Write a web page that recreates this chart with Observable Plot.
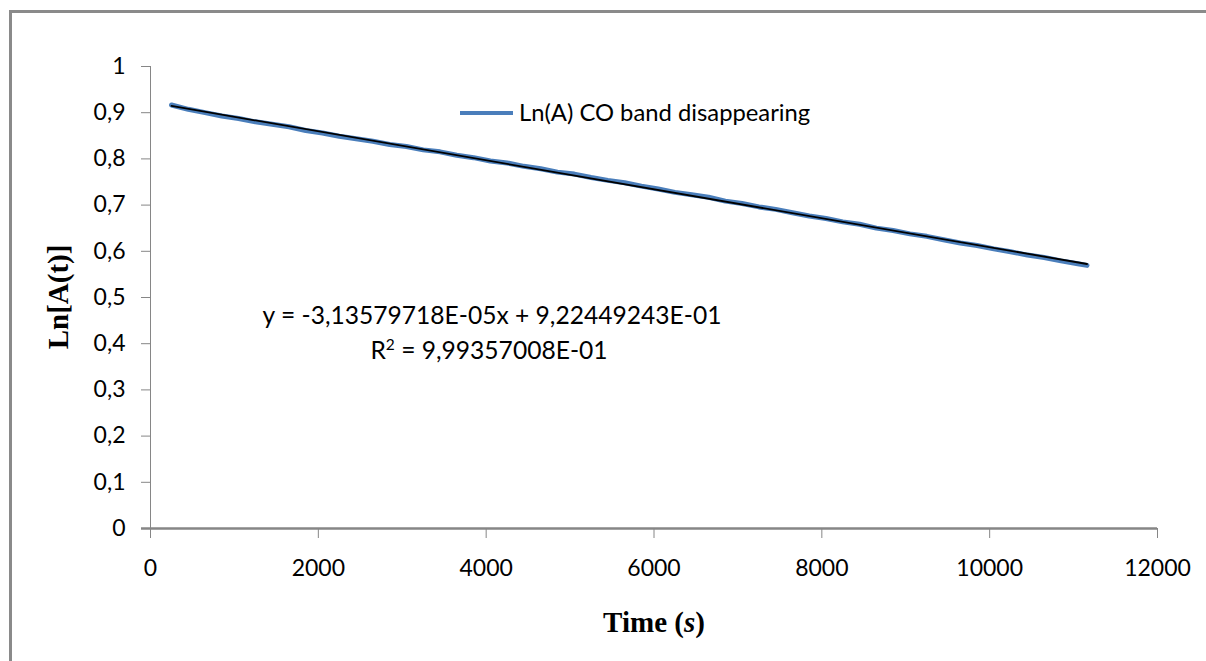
<!DOCTYPE html>
<html>
<head>
<meta charset="utf-8">
<script src="https://cdn.jsdelivr.net/npm/d3@7"></script>
<script src="https://cdn.jsdelivr.net/npm/@observablehq/plot@0.6"></script>
<style>
  html, body { margin: 0; padding: 0; background: #fff; }
  #chart { width: 1206px; height: 661px; overflow: hidden; }
</style>
</head>
<body>
<div id="chart"></div>
<script>
// Time (s)
const times = [250, 450, 650, 850, 1050, 1250, 1450, 1650, 1850, 2050, 2250, 2450, 2650, 2850, 3050, 3250, 3450, 3650, 3850, 4050, 4250, 4450, 4650, 4850, 5050, 5250, 5450, 5650, 5850, 6050, 6250, 6450, 6650, 6850, 7050, 7250, 7450, 7650, 7850, 8050, 8250, 8450, 8650, 8850, 9050, 9250, 9450, 9650, 9850, 10050, 10250, 10450, 10650, 10850, 11050, 11160];
// Ln(A) CO band disappearing
const lnA = [0.9166, 0.9073, 0.9001, 0.8928, 0.8875, 0.8802, 0.8750, 0.8697, 0.8614, 0.8562, 0.8489, 0.8436, 0.8383, 0.8311, 0.8268, 0.8195, 0.8153, 0.8080, 0.8027, 0.7954, 0.7912, 0.7839, 0.7786, 0.7714, 0.7671, 0.7598, 0.7535, 0.7483, 0.7410, 0.7347, 0.7275, 0.7222, 0.7169, 0.7086, 0.7034, 0.6961, 0.6908, 0.6836, 0.6763, 0.6710, 0.6637, 0.6585, 0.6502, 0.6449, 0.6377, 0.6324, 0.6251, 0.6178, 0.6126, 0.6053, 0.5990, 0.5918, 0.5865, 0.5792, 0.5729, 0.5695];
// Linear fit reported on the chart
const fitSlope = -3.13579718e-5;
const fitIntercept = 0.922449243;
const xTicks = [0, 2000, 4000, 6000, 8000, 10000, 12000];
const yTicks = [0, 0.1, 0.2, 0.3, 0.4, 0.5, 0.6, 0.7, 0.8, 0.9, 1];
const seriesName = "Ln(A) CO band disappearing";
const equationText = "y = -3,13579718E-05x + 9,22449243E-01";
const r2Value = "9,99357008E-01";

const data = times.map((t, i) => ({t, v: lnA[i]}));
const tStart = times[0], tEnd = times[times.length - 1];
const trend = [tStart, tEnd].map(t => ({t, v: fitIntercept + fitSlope * t}));

const axisGray = "#868686";
const fontTick = "Lato, 'Open Sans', sans-serif";

const chart = Plot.plot({
  width: 1206,
  height: 661,
  marginLeft: 150,
  marginRight: 49,
  marginTop: 66,
  marginBottom: 133,
  x: {domain: [0, 12000]},
  y: {domain: [0, 1]},
  style: {fontFamily: fontTick, fontSize: "23px", color: "#000", background: "#fff", overflow: "visible"},
  marks: [
    Plot.axisY({ticks: yTicks, tickSize: 9, tickPadding: 16, stroke: axisGray, fill: "#000",
      tickFormat: d => String(d).replace(".", ","), label: null}),
    Plot.axisX({ticks: xTicks, tickSize: 10, tickPadding: 21, stroke: axisGray, fill: "#000",
      tickFormat: d => String(d), label: null}),
    Plot.ruleX([0], {stroke: axisGray, strokeWidth: 1}),
    Plot.ruleY([0], {x1: -107, x2: 12000, stroke: axisGray, strokeWidth: 2.5}),
    Plot.line(data, {x: "t", y: "v", stroke: "#4a7ebb", strokeWidth: 5, strokeLinejoin: "round", strokeLinecap: "round"}),
    Plot.line(trend, {x: "t", y: "v", stroke: "#000", strokeWidth: 1.8})
  ]
});

document.getElementById("chart").appendChild(chart);

const svg = d3.select(chart);
// frame
svg.insert("rect", ":first-child")
  .attr("x", 10.5).attr("y", 11.5).attr("width", 1400).attr("height", 1000)
  .attr("fill", "none").attr("stroke", "#8a8a8a").attr("stroke-width", 3);

// legend
svg.append("line").attr("x1", 460).attr("x2", 513).attr("y1", 113).attr("y2", 113)
  .attr("stroke", "#4a7ebb").attr("stroke-width", 4);
svg.append("text").attr("x", 519).attr("y", 121).attr("text-anchor", "start")
  .attr("font-family", fontTick).attr("font-size", 23.8).attr("fill", "#000")
  .text(seriesName);

// equation
svg.append("text").attr("x", 492).attr("y", 324).attr("text-anchor", "middle")
  .attr("font-family", fontTick).attr("font-size", 24.6).attr("fill", "#000")
  .text(equationText);
const r2 = svg.append("text").attr("x", 489).attr("y", 359).attr("text-anchor", "middle")
  .attr("font-family", fontTick).attr("font-size", 24.6).attr("fill", "#000");
r2.append("tspan").text("R");
r2.append("tspan").attr("dy", -9).attr("font-size", 15.5).text("2");
r2.append("tspan").attr("dy", 9).text(" = " + r2Value);

// axis titles
svg.append("text")
  .attr("transform", "translate(68,297) rotate(-90)")
  .attr("text-anchor", "middle")
  .attr("font-family", "'Liberation Serif', 'Times New Roman', serif")
  .attr("font-weight", "bold").attr("font-size", 29).attr("fill", "#000")
  .text("Ln[A(t)]");
const xt = svg.append("text").attr("x", 654).attr("y", 632).attr("text-anchor", "middle")
  .attr("font-family", "'Liberation Serif', 'Times New Roman', serif")
  .attr("font-weight", "bold").attr("font-size", 29).attr("fill", "#000");
xt.append("tspan").text("Time (");
xt.append("tspan").attr("font-style", "italic").text("s");
xt.append("tspan").text(")");
</script>
</body>
</html>
